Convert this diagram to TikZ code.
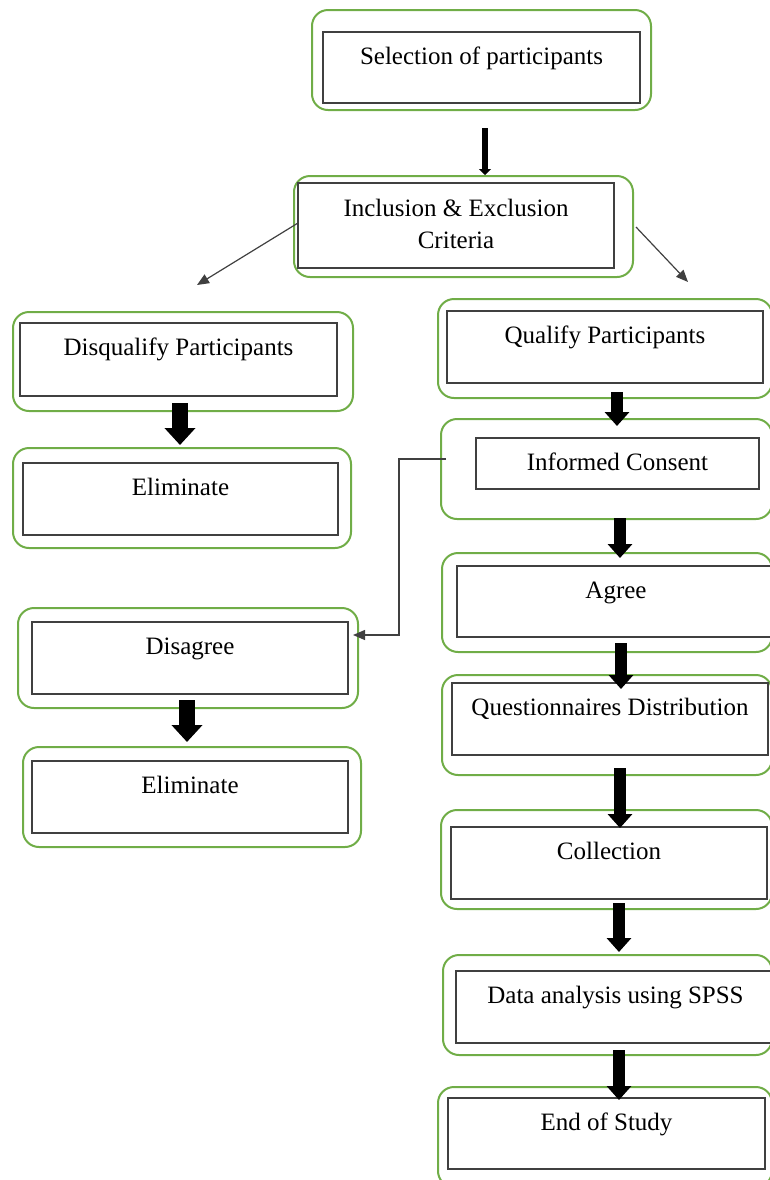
\documentclass[tikz,border=0pt]{standalone}
\usepackage{fontspec}
\setmainfont{Liberation Serif}
\usetikzlibrary{arrows.meta,positioning}
\definecolor{boxgreen}{RGB}{112,173,71}
\definecolor{linegray}{RGB}{64,64,64}

\tikzset{
  outerbox/.style 2 args={draw=boxgreen, line width=1pt, rounded corners=8pt,
    minimum width=#1*0.5pt, minimum height=#2*0.5pt, inner sep=0pt, outer sep=0pt},
  innerbox/.style 2 args={draw=linegray, line width=0.6pt,
    minimum width=#1*0.5pt, minimum height=#2*0.5pt, inner sep=0pt, outer sep=0pt},
  steptext/.style={anchor=base, inner sep=0pt, align=center,
    font=\fontsize{12.5pt}{16pt}\selectfont},
  fatarrow/.style n args={3}{line width=#1, -{Triangle[width=#2, length=#3]}},
  thinarrow/.style={draw=black!75, line width=0.6pt, -{Triangle[width=5pt, length=6pt]}},
}

\begin{document}
\begin{tikzpicture}[x=0.5pt, y=-0.5pt]
  \useasboundingbox (0,0) rectangle (770,1180);
  \clip (0,0) rectangle (770,1180);

  % Top
  \node[outerbox={339}{100}] (sel-o) at (481.5,60) {};
  \node[innerbox={317}{71}] (sel) at (481.5,67.5) {};
  \node[steptext] (sel-t) at ([yshift=-16pt]sel.north) {Selection of participants};

  \node[outerbox={339}{101}] (inc-o) at (463.5,226.5) {};
  \node[innerbox={316}{85}] (inc) at (456,225.5) {};
  % base sits on the last line here
  \node[steptext] (inc-t) at ([yshift=-32.5pt]inc.north) {Inclusion \& Exclusion\\Criteria};

  % Left column
  \node[outerbox={340}{99}] (dis-o) at (183,361.5) {};
  \node[innerbox={317}{73}] (dis) at (178.5,359.5) {};
  \node[steptext] (dis-t) at ([yshift=-16pt]dis.north) {Disqualify Participants};

  \node[outerbox={338}{100}] (elima-o) at (182,498) {};
  \node[innerbox={315}{72}] (elima) at (180.5,499) {};
  \node[steptext] (elima-t) at ([yshift=-16pt]elima.north) {Eliminate};

  \node[outerbox={340}{100}] (disag-o) at (188,658) {};
  \node[innerbox={316}{72}] (disag) at (190,658) {};
  \node[steptext] (disag-t) at ([yshift=-16pt]disag.north) {Disagree};

  \node[outerbox={338}{100}] (elimb-o) at (192,797) {};
  \node[innerbox={316}{72}] (elimb) at (190,797) {};
  \node[steptext] (elimb-t) at ([yshift=-16pt]elimb.north) {Eliminate};

  % Right column
  \node[outerbox={334}{99}] (qual-o) at (605,348.5) {};
  \node[innerbox={316}{72}] (qual) at (605,347) {};
  \node[steptext] (qual-t) at ([yshift=-16pt]qual.north) {Qualify Participants};

  \node[outerbox={331}{100}] (cons-o) at (606.5,469) {};
  \node[innerbox={283}{51}] (cons) at (617.5,463.5) {};
  \node[steptext] (cons-t) at ([yshift=-16pt]cons.north) {Informed Consent};

  \node[outerbox={330}{99}] (agree-o) at (607,602.5) {};
  \node[innerbox={318}{71}] (agree) at (616,601.5) {};
  \node[steptext] (agree-t) at ([yshift=-16pt]agree.north) {Agree};

  \node[outerbox={330}{100}] (quest-o) at (607,725) {};
  \node[innerbox={316}{72}] (quest) at (610,719) {};
  \node[steptext] (quest-t) at ([yshift=-16pt]quest.north) {Questionnaires Distribution};

  \node[outerbox={331}{99}] (coll-o) at (606.5,859.5) {};
  \node[innerbox={316}{72}] (coll) at (609,863) {};
  \node[steptext] (coll-t) at ([yshift=-16pt]coll.north) {Collection};

  \node[outerbox={329}{100}] (data-o) at (607.5,1005) {};
  \node[innerbox={319}{72}] (data) at (615.5,1007) {};
  \node[steptext] (data-t) at ([yshift=-16pt]data.north) {Data analysis using SPSS};

  \node[outerbox={334}{100}] (end-o) at (605,1137) {};
  \node[innerbox={317}{71}] (end) at (606.5,1133.5) {};
  \node[steptext] (end-t) at ([yshift=-16pt]end.north) {End of Study};

  % Thick arrows
  \draw[fatarrow={3pt}{6pt}{3pt}] ([shift={(3.5,18)}]sel-o.south) -- ([shift={(21.5,-1)}]inc-o.north);
  \draw[fatarrow={8pt}{15pt}{8.5pt}] ([shift={(-3,-8)}]dis-o.south) -- ([shift={(-2,-3)}]elima-o.north);
  \draw[fatarrow={8pt}{15pt}{8.5pt}] ([shift={(-1,-8)}]disag-o.south) -- ([shift={(-5,-5)}]elimb-o.north);
  \draw[fatarrow={6pt}{12pt}{7pt}] ([shift={(12,-6)}]qual-o.south) -- ([shift={(10.5,7)}]cons-o.north);
  \draw[fatarrow={6pt}{12pt}{7pt}] ([shift={(13.5,-1)}]cons-o.south) -- ([shift={(13,5)}]agree-o.north);
  \draw[fatarrow={6pt}{12pt}{7pt}] ([shift={(14,-9)}]agree-o.south) -- ([shift={(14,14)}]quest-o.north);
  \draw[fatarrow={6pt}{12pt}{7pt}] ([shift={(13,-7)}]quest-o.south) -- ([shift={(13.5,18)}]coll-o.north);
  \draw[fatarrow={6pt}{12pt}{7pt}] ([shift={(12.5,-6)}]coll-o.south) -- ([shift={(11.5,-3)}]data-o.north);
  \draw[fatarrow={6pt}{12pt}{7pt}] ([shift={(11.5,-5)}]data-o.south) -- ([shift={(14,13)}]end-o.north);

  % Thin arrows
  \draw[thinarrow] ([shift={(0,-2.5)}]inc.west) -- ([shift={(14,-27)}]dis-o.north);
  \draw[thinarrow] ([shift={(3,0.5)}]inc-o.east) -- ([shift={(83,-17)}]qual-o.north);
  \draw[thinarrow] ([shift={(5,-10)}]cons-o.west) -- ++(-47,0) |- ([shift={(-5,-23)}]disag-o.east);
\end{tikzpicture}
\end{document}
